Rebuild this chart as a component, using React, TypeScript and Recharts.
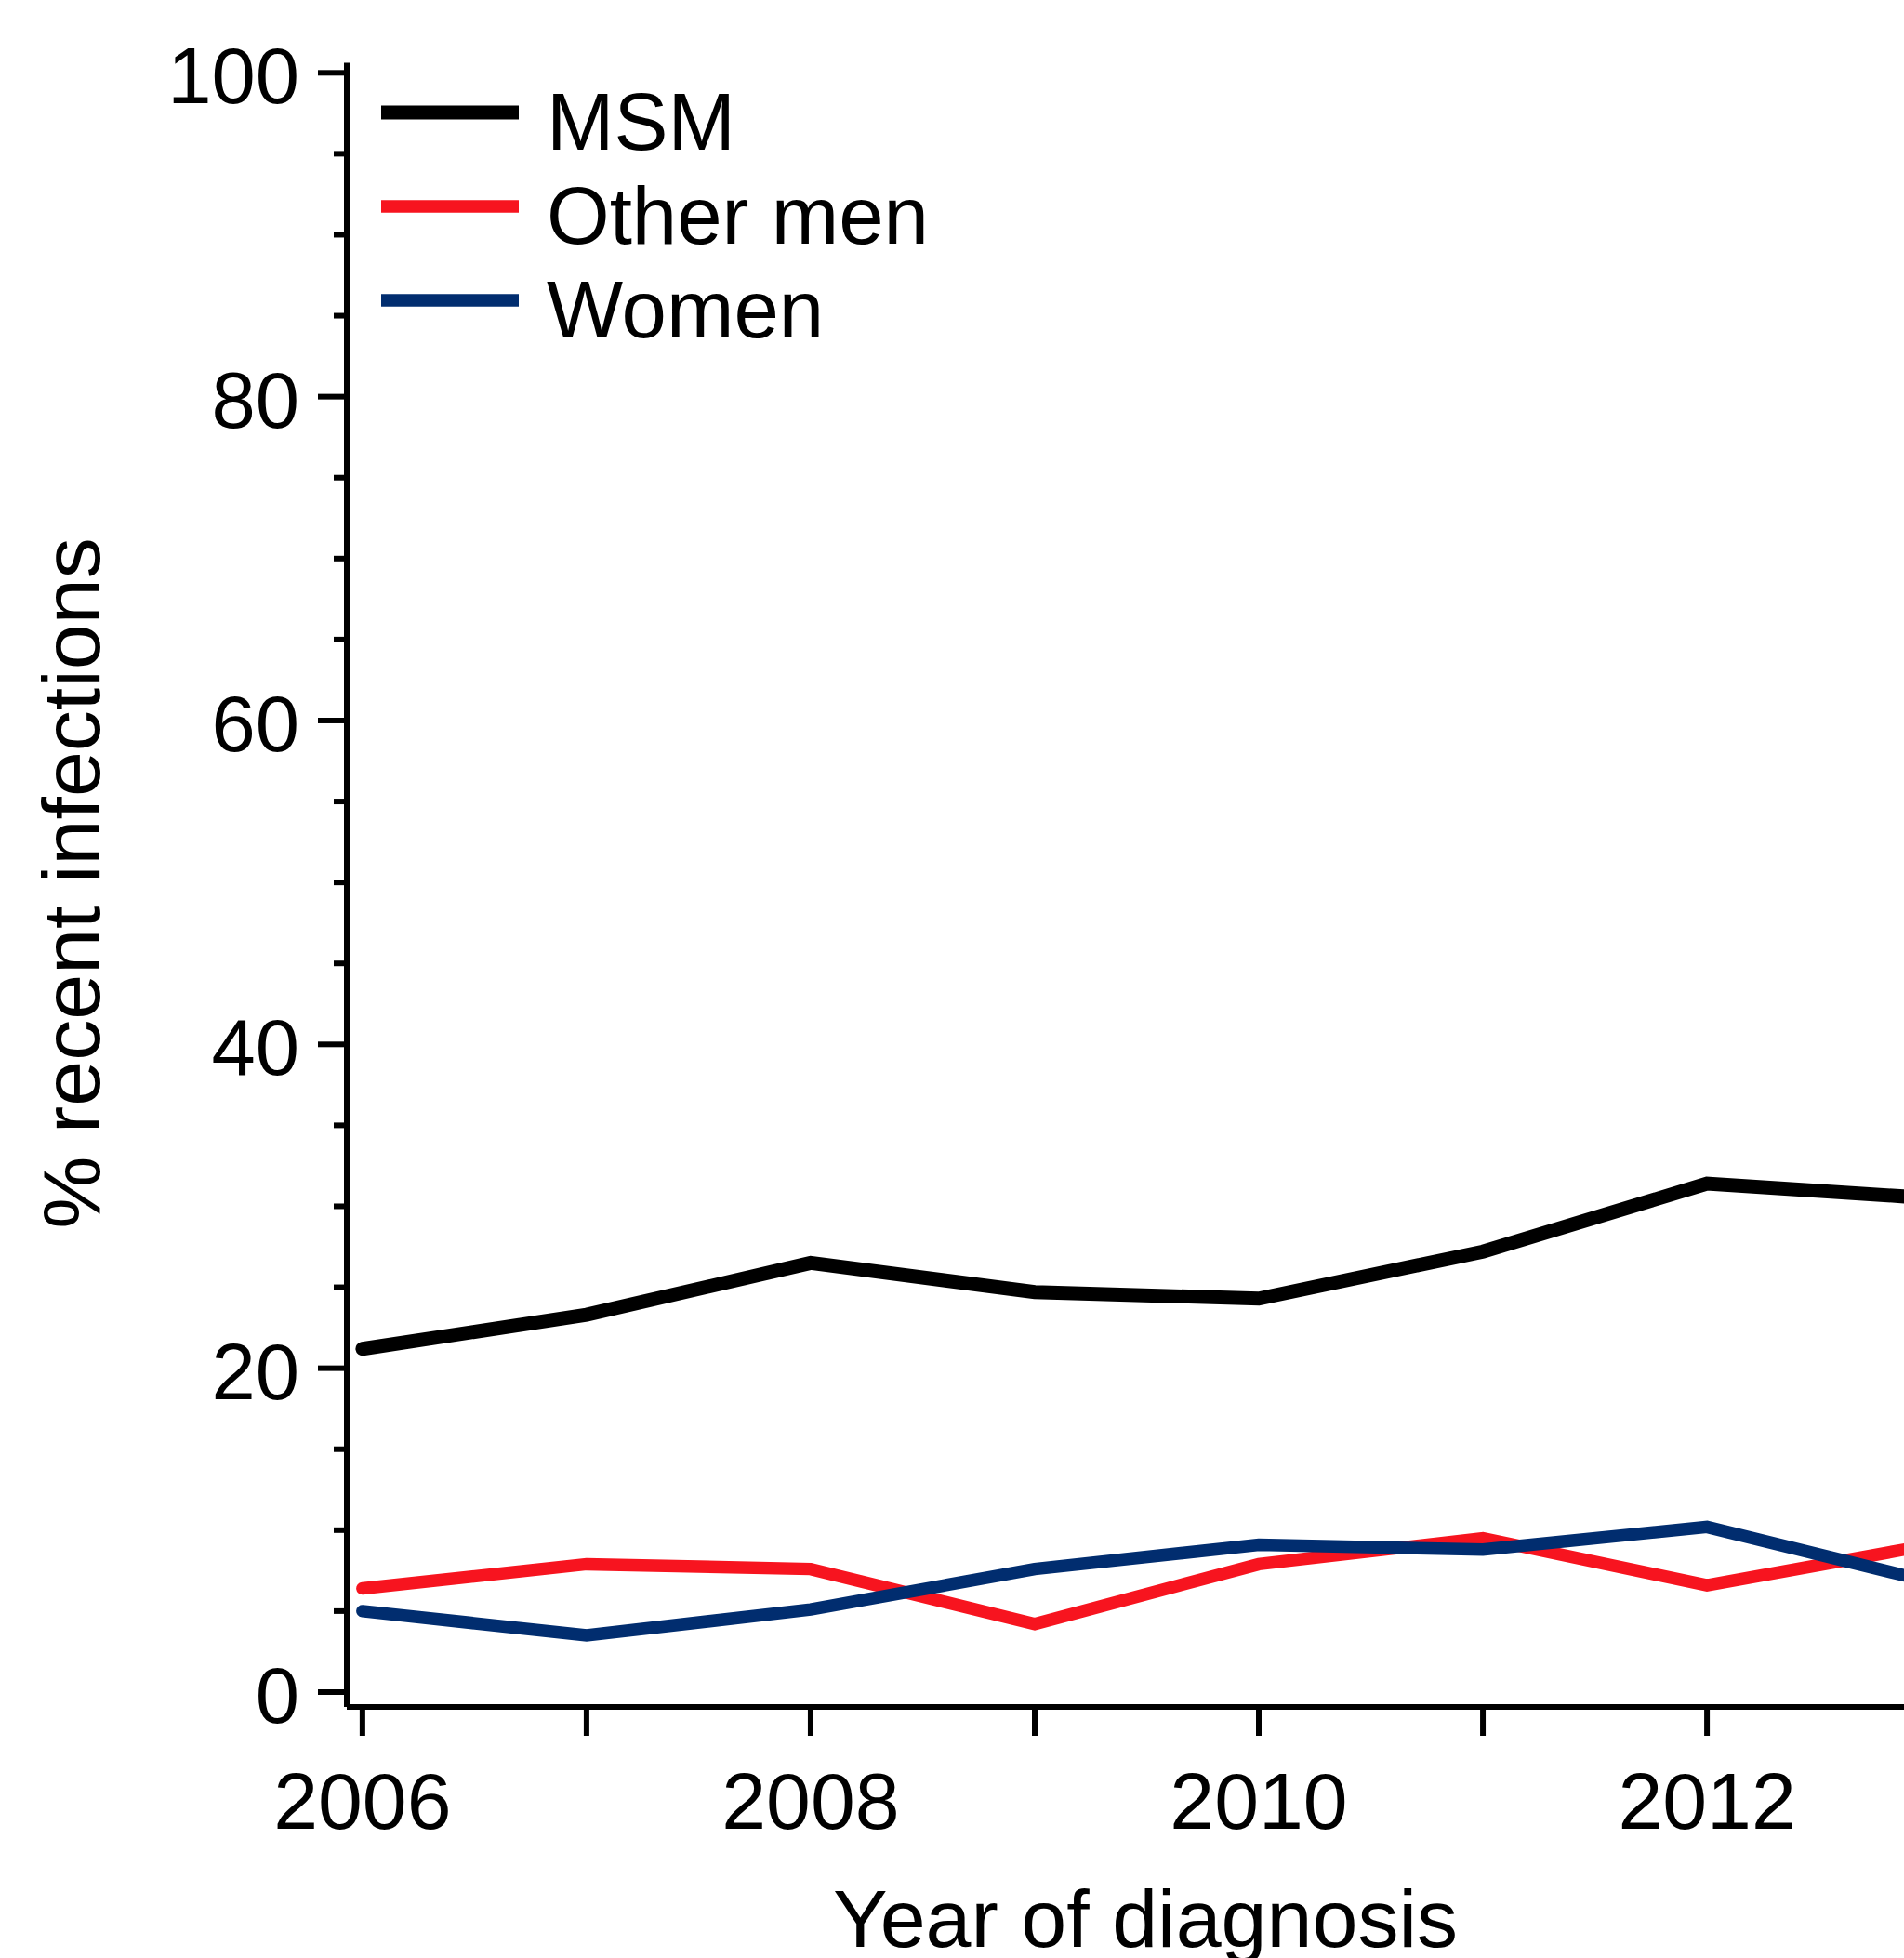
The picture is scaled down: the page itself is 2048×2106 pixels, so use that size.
import { LineChart, Line, XAxis, YAxis } from 'recharts'

// year of diagnosis
const years = [2006, 2007, 2008, 2009, 2010, 2011, 2012, 2013]
// % recent infections
const msm = [21.2, 23.3, 26.5, 24.7, 24.3, 27.2, 31.4, 30.5]
const otherMen = [6.4, 7.9, 7.6, 4.2, 7.9, 9.5, 6.6, 9.1]
const women = [5.0, 3.5, 5.1, 7.6, 9.1, 8.8, 10.2, 6.8]

const yTicks = [0, 5, 10, 15, 20, 25, 30, 35, 40, 45, 50, 55, 60, 65, 70, 75, 80, 85, 90, 95, 100]
const yLabelled = [0, 20, 40, 60, 80, 100]
const xLabelled = [2006, 2008, 2010, 2012]

const series = [
    { key: 'msm', name: 'MSM', color: '#000000', width: 15 },
    { key: 'otherMen', name: 'Other men', color: '#f7141f', width: 13.5 },
    { key: 'women', name: 'Women', color: '#012d6f', width: 13.5 },
]

const data = years.map((year, i) => ({
    year,
    msm: msm[i],
    otherMen: otherMen[i],
    women: women[i],
}))

const FONT = '"Liberation Sans", Arial, Helvetica, sans-serif'
const AXIS_W = 6

const YTick = ({ x, y, payload }: any) => {
    const major = yLabelled.includes(payload.value)
    return (
        <g>
            <line x1={x - (major ? 31 : 14)} x2={x} y1={y} y2={y} stroke="#000" strokeWidth={AXIS_W} />
            {major && (
                <text x={x - 51} y={y} dy={33} textAnchor="end" fontSize={85} fontFamily={FONT} fill="#000">
                    {payload.value}
                </text>
            )}
        </g>
    )
}

const XTick = ({ x, y, payload }: any) => {
    const major = xLabelled.includes(payload.value)
    return (
        <g>
            <line x1={x} x2={x} y1={y} y2={y + 31} stroke="#000" strokeWidth={AXIS_W} />
            {major && (
                <text x={x} y={y + 131} textAnchor="middle" fontSize={86} fontFamily={FONT} fill="#000">
                    {payload.value}
                </text>
            )}
        </g>
    )
}

export default function App() {
    return (
        <div style={{
            position: 'absolute',
            left: 0,
            top: 0,
            width: 2048,
            height: 2106,
            overflow: 'hidden',
            background: '#fff',
        }}>
            <LineChart
                width={2100}
                height={2106}
                data={data}
                margin={{ top: 67.5, right: 6, bottom: 0, left: 0 }}
            >
                <XAxis
                    dataKey="year"
                    type="number"
                    domain={[2005.93, 2013.07]}
                    ticks={years}
                    interval={0}
                    allowDataOverflow
                    height={270}
                    tickSize={0}
                    tickMargin={0}
                    tickLine={false}
                    axisLine={{ stroke: '#000', strokeWidth: AXIS_W }}
                    tick={<XTick />}
                />
                <YAxis
                    type="number"
                    domain={[-0.92, 100.62]}
                    ticks={yTicks}
                    interval={0}
                    allowDataOverflow
                    width={373}
                    tickSize={0}
                    tickMargin={0}
                    tickLine={false}
                    axisLine={{ stroke: '#000', strokeWidth: AXIS_W }}
                    tick={<YTick />}
                />
                {series.map((s) => (
                    <Line
                        key={s.key}
                        type="linear"
                        dataKey={s.key}
                        name={s.name}
                        stroke={s.color}
                        strokeWidth={s.width}
                        strokeLinecap="round"
                        dot={false}
                        activeDot={false}
                        isAnimationActive={false}
                    />
                ))}
            </LineChart>

            {/* axis titles */}
            <svg width={2048} height={2106} style={{ position: 'absolute', left: 0, top: 0, pointerEvents: 'none' }}>
                <text
                    x={107}
                    y={950}
                    transform="rotate(-90, 107, 950)"
                    textAnchor="middle"
                    fontSize={88}
                    fontFamily={FONT}
                    fill="#000"
                >
                    % recent infections
                </text>
                <text x={1232} y={2094} textAnchor="middle" fontSize={88} fontFamily={FONT} fill="#000">
                    Year of diagnosis
                </text>

                {/* legend */}
                {series.map((s, i) => (
                    <g key={s.key}>
                        <line
                            x1={410}
                            x2={558}
                            y1={121 + i * 101}
                            y2={121 + i * 101}
                            stroke={s.color}
                            strokeWidth={s.width}
                        />
                        <text x={588} y={161 + i * 101} fontSize={87} fontFamily={FONT} fill="#000">
                            {s.name}
                        </text>
                    </g>
                ))}
            </svg>
        </div>
    )
}
